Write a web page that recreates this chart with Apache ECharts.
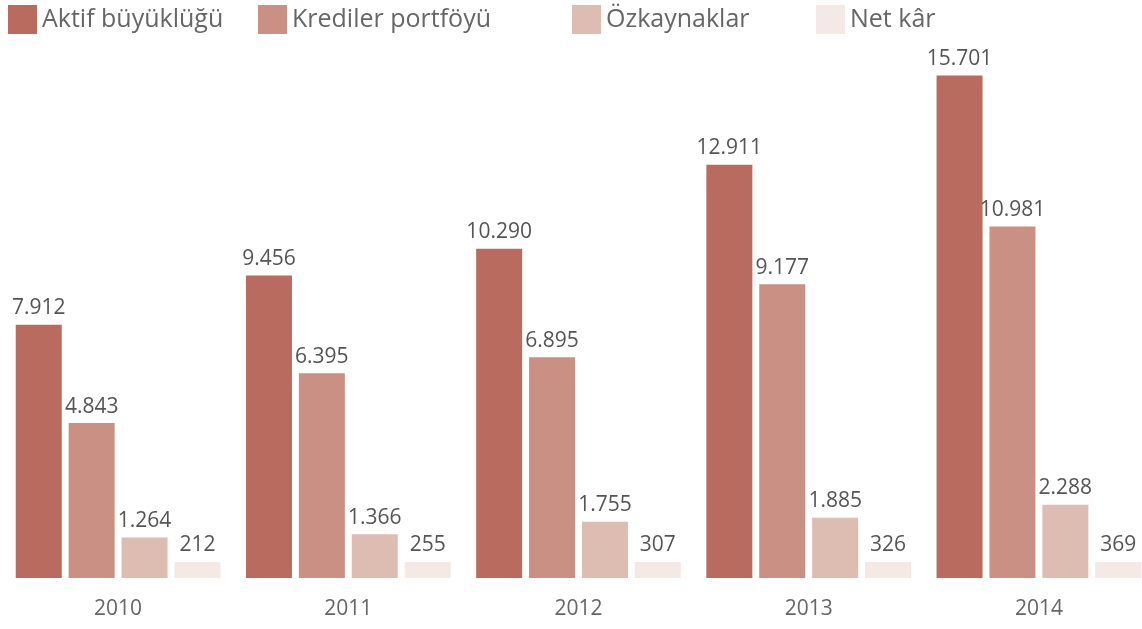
<!DOCTYPE html>
<html>
<head>
<meta charset="utf-8">
<script src="https://cdn.jsdelivr.net/npm/echarts@6/dist/echarts.min.js"></script>
<style>
  html, body { margin: 0; padding: 0; background: #fff; overflow: hidden; }
  #ChartDom { width: 1160px; height: 629px; }
</style>
</head>
<body>
<div id="ChartDom"></div>
<script>
const years = ["2010", "2011", "2012", "2013", "2014"]
const seriesNames = ["Aktif büyüklüğü", "Krediler portföyü", "Özkaynaklar", "Net kâr"]
const aktif = [7912, 9456, 10290, 12911, 15701]
const krediler = [4843, 6395, 6895, 9177, 10981]
const ozkaynak = [1264, 1366, 1755, 1885, 2288]
const netKar = [212, 255, 307, 326, 369]

const colors = ["#b96b5f", "#c99083", "#ddbcb1", "#f5e9e6"]
const legendLeft = [8, 258, 572, 816]
const fontFam = "'Open Sans', 'Noto Sans', sans-serif"

function fmt(v) {
  return String(v).replace(/\B(?=(\d{3})+(?!\d))/g, ".")
}

const chartDom = document.getElementById("ChartDom")
const myChart = echarts.init(chartDom)

const allData = [aktif, krediler, ozkaynak, netKar]

let option = {
  animation: false,
  color: colors,
  legend: seriesNames.map((name, i) => ({
    data: [name],
    left: legendLeft[i],
    top: 5,
    padding: 0,
    icon: "rect",
    itemWidth: 29,
    itemHeight: 29,
    itemGap: 8,
    textStyle: {
      color: "#666666",
      fontSize: 25,
      fontFamily: fontFam,
      padding: [3, 0, 0, 0],
    },
  })),
  grid: {
    left: 3,
    width: 1151,
    top: 66,
    height: 512,
    containLabel: false,
  },
  xAxis: {
    type: "category",
    data: years,
    axisLine: { show: false },
    axisTick: { show: false },
    axisLabel: {
      color: "#666666",
      fontSize: 21,
      fontFamily: fontFam,
      margin: 21,
    },
  },
  yAxis: {
    type: "value",
    min: 0,
    max: 16000,
    show: false,
    splitLine: { show: false },
  },
  series: seriesNames.map((name, i) => ({
    name: name,
    type: "bar",
    barWidth: 46,
    barGap: "15%",
    barMinHeight: i === 3 ? 16 : 0,
    itemStyle: { color: colors[i] },
    label: {
      show: true,
      position: "top",
      distance: 6,
      color: "#555555",
      fontSize: 21,
      fontFamily: fontFam,
      formatter: (p) => fmt(p.value),
    },
    data: allData[i],
  })),
}

myChart.setOption(option)
</script>
</body>
</html>
